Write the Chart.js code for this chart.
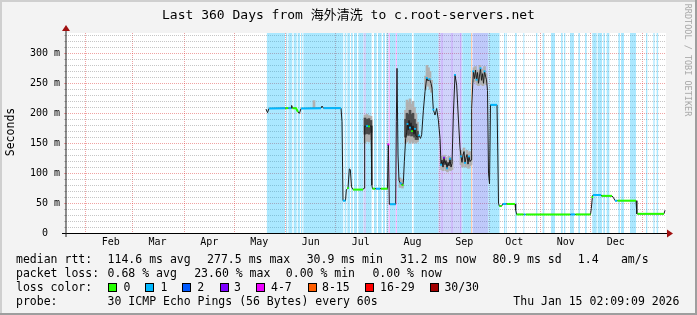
<!DOCTYPE html>
<html><head><meta charset="utf-8">
<script src="https://cdn.jsdelivr.net/npm/chart.js@4.4.1/dist/chart.umd.min.js"></script>
<style>
html,body{margin:0;padding:0;background:#F3F3F3;}
#wrap{position:relative;width:697px;height:315px;overflow:hidden;}
#c{position:absolute;left:0;top:0;}
.t{position:absolute;font-family:'DejaVu Sans Mono',monospace;font-size:11.5px;line-height:14px;white-space:pre;color:#000;}
.sw{position:absolute;width:9px;height:9px;box-sizing:border-box;border:1px solid #000;top:283px;}
#title{position:absolute;left:0;top:7px;width:697px;text-align:center;font-family:'DejaVu Sans Mono','Noto Sans CJK SC',monospace;font-size:13px;line-height:16px;white-space:pre;color:#000;}
#ytitle{position:absolute;left:-40px;top:125px;width:100px;height:14px;text-align:center;transform:rotate(-90deg);}
#wm{position:absolute;left:628px;top:55px;width:120px;height:10px;line-height:10px;text-align:center;transform:rotate(90deg);font-family:'DejaVu Sans Mono',monospace;font-size:8.5px;color:#A8A8A8;white-space:pre;}
</style></head>
<body><div id="wrap">
<canvas id="c" width="697" height="315"></canvas>
<div id="title">Last 360 Days from 海外清洗 to c.root-servers.net</div>
<div id="ytitle" class="t">Seconds</div>
<div id="wm">RRDTOOL / TOBI OETIKER</div>
<div id="legend"></div>
</div>
<script>
// ---------------- data ----------------
// x values are days of year 2025 (Jan 1 = 0); window = last 360 days ending Thu Jan 15 2026 02:09
const xMin = 19.1, xMax = 379.1;
const monthStarts = [31,59,90,120,151,181,212,243,273,304,334,365];
const monthLabels = ['Feb','Mar','Apr','May','Jun','Jul','Aug','Sep','Oct','Nov','Dec'];
const yTicks = [0,10,20,30,40,50,60,70,80,90,100,110,120,130,140,150,160,170,180,190,200,210,220,230,240,250,260,270,280,290,300,310,320,330];
const yMax = 334;

// median rtt (ms) and loss class per sample (9 = mixed / no colour)
const medDays = [139.1,140.0,140.9,150.5,150.8,152.3,152.6,154.1,154.5,155.0,157.1,158.3,159.2,160.1,172.1,172.7,173.6,184.1,184.7,185.3,186.8,187.3,188.3,189.1,189.7,190.4,191.3,197.3,197.9,198.3,199.1,200.3,200.9,202.1,202.6,203.0,204.5,205.1,207.5,208.1,212.0,212.5,213.1,213.5,216.9,217.3,217.7,218.3,218.9,219.5,220.4,221.0,221.5,222.1,222.9,223.5,224.0,224.5,224.9,225.5,226.1,226.7,227.3,227.9,228.5,229.1,230.0,230.9,231.8,232.5,233.5,234.5,235.5,236.3,237.2,238.1,238.7,239.5,240.5,241.5,242.5,243.5,244.1,244.7,245.3,245.9,246.5,247.1,247.7,248.3,248.9,249.5,250.1,250.7,251.5,252.5,253.5,254.5,255.5,256.1,256.7,257.3,257.9,258.5,259.1,259.7,260.3,260.9,261.5,262.1,262.5,263.5,264.2,264.8,265.4,266.0,266.6,267.2,267.8,268.4,269.0,269.6,270.2,270.8,271.4,272.0,272.6,273.2,273.8,277.7,278.2,278.6,279.1,280.5,281.1,283.1,283.7,288.5,288.9,289.5,293.6,293.9,294.8,295.1,321.5,321.8,324.5,324.8,333.8,334.3,334.9,335.3,340.1,340.4,346.7,347.6,348.5,349.7,350.0,361.1,361.6,362.0,377.9,378.5];
const median = [207,201,208,208.5,208.5,208.5,208.5,208.5,213,208.5,208.5,202,200,208,208.5,212,208.5,208.5,186,54,54,72,75,107,106,77,72.5,72.5,75,179,178,179,178,179,80,74,74,74,74,74,74,148,48,48,48,186,275,130,88,84,82,80,84,119,158,168,182,172,188,176,184,170,179,165,174,162,160,163,158,164,204,236,259,254,257,250,242,206,197,208,189,158,114,122,110,126,114,121,108,118,112,124,110,116,197,264,247,192,142,128,118,130,136,117,126,131,115,128,119,122,208,270,258,272,256,268,250,262,275,255,266,250,270,262,256,238,100,82,214,214,130,50,45,45,48.5,48.5,48.5,48.5,38.5,31,31,31,31,31,31,31,31,31,31,41,60,63.5,63.5,62,62,59,54,54,54,54,32,32,32,38];
const medLoss = [9,9,1,1,0,0,1,1,9,0,0,0,9,1,1,9,1,1,9,1,1,9,0,9,9,9,0,0,9,9,1,1,0,9,9,0,0,1,1,0,0,4,9,1,1,9,9,9,9,1,1,0,9,9,9,9,1,9,9,1,9,0,9,9,1,9,9,1,9,9,9,9,1,9,1,9,9,1,9,9,9,9,1,9,9,3,9,9,1,9,9,1,9,9,9,1,9,9,9,1,9,9,9,1,9,9,9,1,9,9,9,1,9,9,1,9,9,9,1,9,9,9,1,9,9,9,9,9,1,1,9,9,0,0,1,1,0,0,9,0,0,1,1,0,0,1,1,0,0,9,0,1,1,0,0,9,1,1,0,0,9,0,0,9];

// smoke (spread of the 30 pings): outer band and darker core
const smokeDays = [167.9,198.5,199.7,200.9,202.1,219.5,221.0,222.8,223.7,224.6,225.5,226.4,227.3,228.2,229.1,230.0,234.8,235.7,236.6,237.5,238.4,244.4,245.3,246.2,247.1,248.0,248.9,249.8,250.7,256.1,257.0,257.9,258.8,259.7,260.6,261.5,262.1,263.9,264.8,265.7,266.6,267.5,268.4,269.3,270.2,271.1];
const smokeLo = [208,150,153,152,156,76,75,150,152,155,150,153,150,152,150,152,240,248,245,240,235,106,104,108,104,102,106,104,106,114,110,116,110,114,108,112,114,252,254,248,246,254,248,246,250,248];
const smokeHi = [221,197,198,196,195,92,90,205,222,218,224,215,220,210,200,185,262,280,276,270,255,128,124,130,126,120,128,126,122,138,132,142,130,138,134,136,130,276,278,272,270,280,274,272,278,266];
const coreDays = [198.5,199.7,200.9,202.1,222.8,223.7,224.6,225.5,226.4,227.3,228.2,229.1,230.0];
const coreLo = [165,166,165,168,160,165,163,166,162,163,160,156,156];
const coreHi = [192,190,191,188,190,200,198,205,198,200,190,182,170];

// loss background periods (start day, end day, loss class)
const bgStart = [139.5,151.1,152.5,155.7,158.1,160.1,161.5,186.3,187.9,190.1,191.9,194.5,197.5,199.1,203.9,206.3,209.3,211.3,212.5,213.5,216.9,217.7,227.7,242.5,244.4,250.4,255.6,256.9,262.1,262.9,272.5,281.9,282.9,288.5,293.5,301.1,305.1,310.1,316.1,317.9,321.5,326.5,330.5,334.9,338.1,341.5,343.5,350.5,352.1,357.5,367.1,371.5,373.5];
const bgEnd   = [150.5,151.9,154.9,157.5,159.5,160.9,185.5,187.3,189.5,191.1,193.7,197.5,199.1,202.5,205.5,208.5,210.5,212.5,213.5,216.9,217.7,226.7,242.5,256.9,245.0,251.0,256.2,262.1,262.9,272.5,279.2,282.5,283.5,289.5,294.1,301.9,306.1,312.5,317.1,318.7,323.9,327.5,331.5,337.5,340.7,342.5,345.1,351.5,353.9,361.1,367.9,372.3,374.5];
const bgLoss  = [1,1,1,1,1,1,1,1,1,1,1,1,3,1,1,1,1,1,4,1,4,1,1,3,4,4,4,1,8,2,1,1,1,1,1,1,1,1,1,1,1,1,1,1,1,1,1,1,1,1,1,1,1];

// legend
const lossLegend = ['0','1','2','3','4-7','8-15','16-29','30/30'];
const lossLegendColors = ['#26ff00','#00b8ff','#0059ff','#7e00ff','#ee00ff','#ff5e00','#ff0000','#a10000'];
const rttStats = ['median rtt:','114.6 ms avg','277.5 ms max','30.9 ms min','31.2 ms now','80.9 ms sd','1.4','am/s'];
const lossStats = ['packet loss:','0.68 % avg','23.60 % max','0.00 % min','0.00 % now'];
const probeInfo = ['probe:','30 ICMP Echo Pings (56 Bytes) every 60s','Thu Jan 15 02:09:09 2026'];

// ---------------- styles ----------------
const lineColor = {0:'#26ff00',1:'#00b8ff',2:'#0059ff',3:'#7e00ff',4:'#ee00ff',8:'#ff5e00'};
const bgColor = {1:'rgba(0,184,255,0.33)',2:'rgba(60,90,240,0.33)',3:'rgba(100,110,240,0.3)',4:'rgba(238,0,255,0.25)',8:'rgba(255,94,0,0.3)'};

// ---------------- legend DOM ----------------
const leg = document.getElementById('legend');
function addText(txt, x, yc){ const d=document.createElement('div'); d.className='t'; d.textContent=txt; d.style.left=x+'px'; d.style.top=(yc-7.5)+'px'; leg.appendChild(d); }
[16,107.6,207.1,306.7,400,492.4,577.8,620.9].forEach((x,i)=>addText(rttStats[i],x,259.3));
[16,107.6,194.2,285.8,372.4].forEach((x,i)=>addText(lossStats[i],x,273.3));
addText('loss color:',16,287.3);
const swX=[108,145,182,219.6,256.4,307.6,365,430];
const lbX=[123.6,160.4,197.3,234,271,322,380,444.4];
lossLegend.forEach((l,i)=>{ const s=document.createElement('div'); s.className='sw'; s.style.left=swX[i]+'px'; s.style.background=lossLegendColors[i]; leg.appendChild(s); addText(l,lbX[i],287.3); });
[16,107.6,513.3].forEach((x,i)=>addText(probeInfo[i],x,301.2));

// ---------------- datasets ----------------
const pts = (xs, ys) => xs.map((x,i)=>({x, y: ys[i]}));
function stripes(cls){
  const p=[];
  for(let i=0;i<bgStart.length;i++) if(bgLoss[i]===cls){ p.push({x:bgStart[i],y:yMax}); p.push({x:bgEnd[i],y:0}); }
  return p;
}
const datasets = [];
[1,2,3,4,8].forEach((cls,k)=>{
  datasets.push({type:'line', data:stripes(cls), stepped:true, fill:'origin', backgroundColor:bgColor[cls], borderWidth:0, pointRadius:0, order:20+k});
});
datasets.push({type:'bar', data:smokeDays.map((x,i)=>({x, y:[smokeLo[i],smokeHi[i]]})), backgroundColor:'#b0b0b0', borderWidth:0, barThickness:2, grouped:false, order:6});
datasets.push({type:'bar', data:coreDays.map((x,i)=>({x, y:[coreLo[i],coreHi[i]]})), backgroundColor:'#4a4a4a', borderWidth:0, barThickness:2, grouped:false, order:5});
datasets.push({type:'line', data:pts(medDays, median), borderColor:'#1c1c1c', borderWidth:1, pointRadius:0, fill:false, tension:0, order:2});
datasets.push({type:'line', data:pts(medDays, median), borderColor:'rgba(0,0,0,0)', borderWidth:2, fill:false, tension:0, order:1,
  segment:{ borderColor: c => { const a=medLoss[c.p0DataIndex], b=medLoss[c.p1DataIndex]; return (a===b && lineColor[a]) ? lineColor[a] : 'rgba(0,0,0,0)'; } },
  pointStyle:'rect', pointBorderWidth:0,
  pointRadius: c => { const i=c.dataIndex, l=medLoss[i]; if(l===9) return 0; return (medLoss[i-1]!==l && medLoss[i+1]!==l) ? 1.3 : 0; },
  pointBackgroundColor: c => lineColor[medLoss[c.dataIndex]] || 'rgba(0,0,0,0)'
});

// ---------------- plugins ----------------
const framePlugin = { id:'rrdFrame', beforeDraw(chart){
  const {ctx, chartArea:a, width:w, height:h} = chart;
  ctx.save();
  ctx.fillStyle='#F3F3F3'; ctx.fillRect(0,0,w,h);
  ctx.fillStyle='#FFFFFF'; ctx.fillRect(a.left, a.top, a.right-a.left, a.bottom-a.top);
  ctx.fillStyle='#CFCFCF'; ctx.fillRect(0,0,w,2); ctx.fillRect(0,0,2,h);
  ctx.fillStyle='#9E9E9E'; ctx.fillRect(0,h-2,w,2); ctx.fillRect(w-2,0,2,h);
  ctx.restore();
}};
const axesPlugin = { id:'rrdAxes', afterDraw(chart){
  const {ctx, chartArea:a} = chart;
  ctx.save();
  ctx.lineWidth=1;
  ctx.strokeStyle='#000';
  ctx.beginPath(); ctx.moveTo(a.left-4, a.bottom+0.5); ctx.lineTo(a.right+2, a.bottom+0.5); ctx.stroke();
  ctx.strokeStyle='#222';
  ctx.beginPath(); ctx.moveTo(a.left, a.bottom+4); ctx.lineTo(a.left, a.top-2); ctx.stroke();
  ctx.fillStyle='#A01010';
  ctx.beginPath(); ctx.moveTo(a.right+1, a.bottom-3.5); ctx.lineTo(a.right+7, a.bottom+0.5); ctx.lineTo(a.right+1, a.bottom+4.5); ctx.closePath(); ctx.fill();
  ctx.beginPath(); ctx.moveTo(a.left-4, a.top-2); ctx.lineTo(a.left, a.top-8); ctx.lineTo(a.left+4, a.top-2); ctx.closePath(); ctx.fill();
  ctx.restore();
}};

const MAJOR='rgba(222,48,48,0.45)', MINOR='rgba(128,128,128,0.45)';
new Chart(document.getElementById('c'), {
  type:'line',
  data:{datasets},
  options:{
    responsive:false, animation:false, events:[], devicePixelRatio:1,
    layout:{padding:{left:0,right:31,top:33,bottom:62}},
    plugins:{legend:{display:false}, tooltip:{enabled:false}},
    scales:{
      x:{type:'linear', min:xMin, max:xMax, offset:false,
        afterBuildTicks: s => { const t=monthStarts.map(v=>({value:v, g:true})); monthLabels.forEach((m,i)=>t.push({value:monthStarts[i]+15, lbl:m})); t.sort((p,q)=>p.value-q.value); s.ticks=t; },
        afterFit: s => { s.height = 20; },
        grid:{offset:false, drawTicks:false, lineWidth:1, color: c => (c.tick && c.tick.g) ? MAJOR : 'rgba(0,0,0,0)'},
        border:{display:false, dash:[1,1]},
        ticks:{autoSkip:false, maxRotation:0, minRotation:0, padding:3, color:'#000', font:{family:"'DejaVu Sans Mono', monospace", size:10},
          callback:(v,i,t)=> t[i].lbl || ''}
      },
      y:{type:'linear', min:0, max:yMax, offset:false,
        afterBuildTicks: s => { s.ticks = yTicks.map(v=>({value:v})); },
        afterFit: s => { s.width = 66; },
        grid:{offset:false, drawTicks:true, tickLength:2, lineWidth:1, color: c => { const v=c.tick ? c.tick.value : 0; return v===0 ? 'rgba(0,0,0,0)' : (v%50===0 ? MAJOR : MINOR); }},
        border:{display:false, dash:[1,1]},
        ticks:{autoSkip:false, padding:4, color:'#000', font:{family:"'DejaVu Sans Mono', monospace", size:10},
          callback: v => v===0 ? '0  ' : (v%50===0 ? v+' m' : '')}
      }
    }
  },
  plugins:[framePlugin, axesPlugin]
});
</script>
</body></html>
